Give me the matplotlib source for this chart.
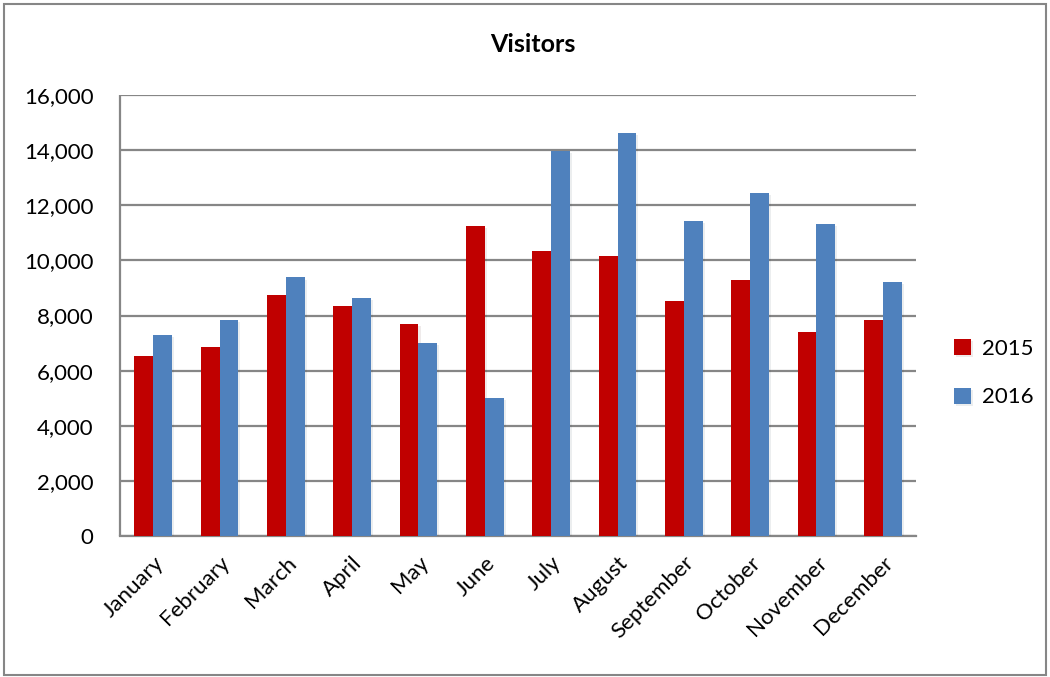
import numpy as np
import matplotlib
matplotlib.use("Agg")
import matplotlib.pyplot as plt
from matplotlib.patches import Rectangle
from matplotlib.ticker import FuncFormatter
import matplotlib.patheffects as pe

plt.rcParams['font.family'] = ['Lato', 'DejaVu Sans']

months = ["January", "February", "March", "April", "May", "June",
          "July", "August", "September", "October", "November", "December"]
visitors_2015 = [6530, 6840, 8730, 8340, 7700, 11260,
                 10350, 10160, 8510, 9270, 7410, 7840]
visitors_2016 = [7300, 7840, 9380, 8630, 7010, 5010,
                 13980, 14620, 11420, 12440, 11330, 9220]
series_labels = ["2015", "2016"]
y_ticks = [0, 2000, 4000, 6000, 8000, 10000, 12000, 14000, 16000]

red = "#C00000"
blue = "#4F81BD"
grid_gray = "#868686"

fig = plt.figure(figsize=(10.5, 6.77), dpi=100)
ax = fig.add_axes([120 / 1050, 1 - 536 / 677, (916 - 120) / 1050, (536 - 95) / 677])

x = np.arange(len(months))
w = 0.283
shadow = [pe.SimplePatchShadow(offset=(1.5, -1.5), alpha=0.08), pe.Normal()]
b1 = ax.bar(x - w / 2, visitors_2015, width=w, color=red, label=series_labels[0], zorder=3)
b2 = ax.bar(x + w / 2, visitors_2016, width=w, color=blue, label=series_labels[1], zorder=3)
for bars in (b1, b2):
    for p in bars:
        p.set_path_effects(shadow)

ax.set_xlim(-0.5, len(months) - 0.5)
ax.set_ylim(0, 16000)
ax.set_yticks(y_ticks)
ax.yaxis.set_major_formatter(FuncFormatter(lambda v, _: f"{int(v):,}"))
ax.yaxis.grid(True, color=grid_gray, linewidth=1.6, zorder=0)
ax.set_axisbelow(True)

ax.set_xticks(x)
ax.set_xticklabels(months, rotation=45, ha="right", rotation_mode="anchor", fontsize=16)
ax.tick_params(axis="x", length=0, pad=12)
ax.tick_params(axis="y", length=0, labelsize=16, pad=19)

for side in ("top", "right"):
    ax.spines[side].set_visible(False)
ax.spines["left"].set_color(grid_gray)
ax.spines["left"].set_linewidth(1.6)
ax.spines["left"].set_capstyle("butt")
ax.spines["bottom"].set_color(grid_gray)
ax.spines["bottom"].set_linewidth(1.6)

fig.text(533 / 1050, 1 - 45 / 677, "Visitors", ha="center", va="center",
         fontsize=18, fontweight="bold")

leg = fig.legend(handles=[b1, b2], labels=series_labels, loc="center left",
                 bbox_to_anchor=(934 / 1050, 1 - 373 / 677), frameon=False,
                 fontsize=16, handlelength=0.75, handleheight=0.75, labelspacing=1.3,
                 handletextpad=0.5)

fig.patches.append(Rectangle((4 / 1050, 2 / 677), 1042 / 1050, 671 / 677,
                             transform=fig.transFigure, fill=False,
                             edgecolor=grid_gray, linewidth=1.5))

fig.savefig("out.png", dpi=100)
